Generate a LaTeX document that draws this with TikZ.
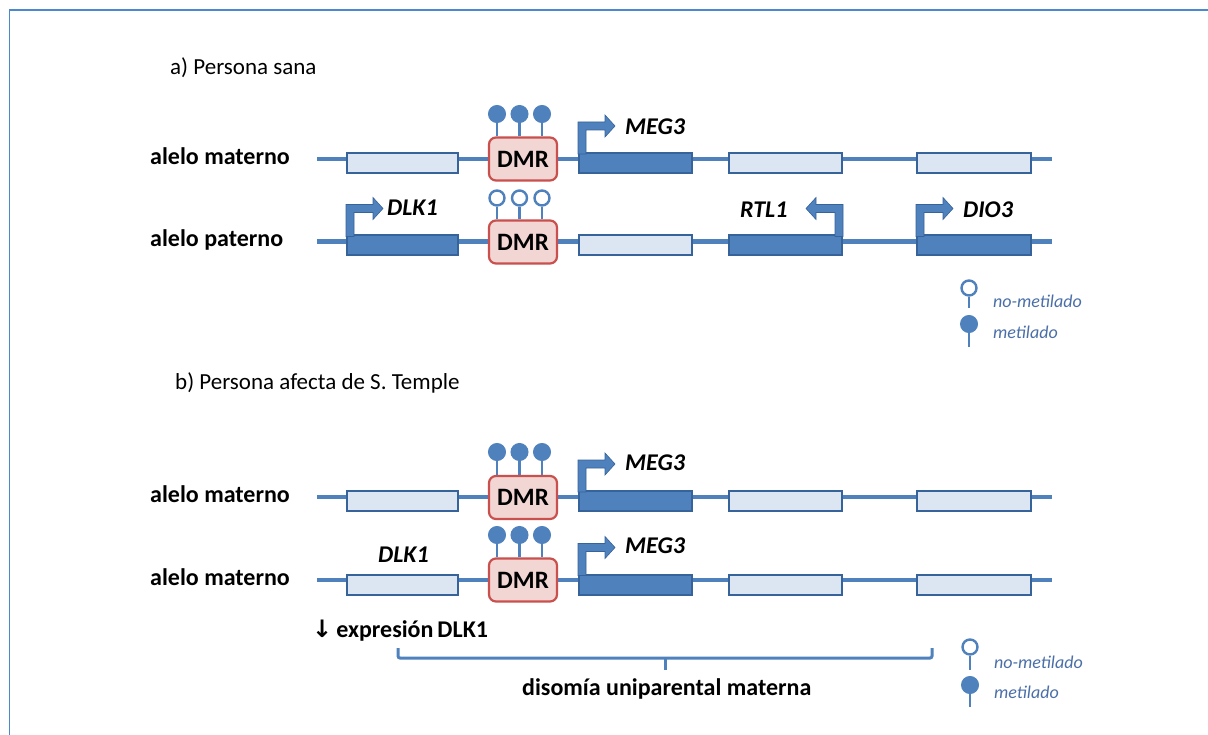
\documentclass[tikz,border=0pt]{standalone}
\usepackage{fontspec}
\setmainfont{Carlito}
\newfontfamily\arrowfont{DejaVu Sans}
\newcommand\setfsz[1]{\fontsize{#1}{#1}\selectfont}
\definecolor{lineblue}{HTML}{4F81BD}
\definecolor{darkfill}{HTML}{4F81BD}
\definecolor{boxedge}{HTML}{36639A}
\definecolor{lightfill}{HTML}{DCE6F2}
\definecolor{dmrfill}{HTML}{F2D6D4}
\definecolor{dmredge}{HTML}{C9504D}
\definecolor{framecol}{HTML}{4A88CF}
\definecolor{legtext}{HTML}{4A6FA8}
\tikzset{
  chrom/.style={draw=lineblue, line width=4.5pt},
  genebox/.style={draw=boxedge, line width=2pt, minimum height=20pt, inner sep=0pt},
  lightbox/.style={genebox, fill=lightfill},
  darkbox/.style={genebox, fill=darkfill},
  dmrbox/.style={draw=dmredge, fill=dmrfill, line width=2.2pt, rounded corners=7pt,
    minimum width=68pt, minimum height=43pt, inner sep=0pt, font=\bfseries\setfsz{25}},
  meth/.style={circle, fill=lineblue, draw=lineblue, line width=1pt, minimum size=17pt, inner sep=0pt},
  unmeth/.style={circle, fill=white, draw=lineblue, line width=2.4pt, minimum size=15pt, inner sep=0pt},
  stem/.style={draw=lineblue, line width=2.6pt},
  genelabel/.style={anchor=west, inner sep=0pt, font=\bfseries\itshape\setfsz{24}},
  rowlabel/.style={anchor=west, inner sep=0pt, font=\bfseries\setfsz{24}},
  title/.style={anchor=west, inner sep=0pt, font=\setfsz{23}},
  legendtext/.style={anchor=west, inner sep=0pt, text=legtext, font=\itshape\setfsz{18}},
  brace/.style={draw=lineblue, line width=3pt, rounded corners=2pt},
  arrowR/.pic={\fill[darkfill, draw=boxedge, line width=0.6pt]
     (0,2) -- (0,-30) -- (27,-30) -- (27,-37) -- (37,-26) -- (27,-15) -- (27,-22) -- (8,-22) -- (8,2) -- cycle;},
  arrowL/.pic={\fill[darkfill, draw=boxedge, line width=0.6pt]
     (0,2) -- (0,-30) -- (-27,-30) -- (-27,-37) -- (-37,-26) -- (-27,-15) -- (-27,-22) -- (-8,-22) -- (-8,2) -- cycle;}
}
\begin{document}
\begin{tikzpicture}[x=1pt,y=-1pt]
\useasboundingbox (0,0) rectangle (1208,735);
\fill[white] (0,0) rectangle (1208,735);
% frame
\coordinate (fr1) at (9.5,735);
\coordinate (fr2) at (9.5,10);
\coordinate (fr3) at (1208,10);
\draw[framecol, line width=1.5pt] (fr1) -- (fr2) -- (fr3);

% titles
\node[title] (ta) at (170,68) {a) Persona sana};
\node[title] (tb) at (175,383) {b) Persona afecta de S. Temple};

% ===== Row a1 =====
\node[rowlabel] (la1) at (150,156) {alelo materno};
\coordinate (a1s) at (317,159); \coordinate (a1e) at (1052,159);
\draw[chrom] (a1s) -- (a1e);
\node[lightbox, minimum width=111pt] (a1g1) at (402.5,163) {};
\node[dmrbox] (a1dmr) at (523,159) {DMR};
\node[darkbox, minimum width=113pt] (a1g3) at (635.5,163) {};
\node[lightbox, minimum width=113pt] (a1g4) at (785.5,163) {};
\node[lightbox, minimum width=114pt] (a1g5) at (974,163) {};
\pic at (a1g3.north west) {arrowR};
\node[genelabel] (a1meg) at (625,127) {MEG3};
\foreach \i/\x in {1/497,2/519.5,3/542}{
  \node[meth] (a1c\i) at (\x,114) {};
  \draw[stem] (a1c\i) -- (a1c\i |- a1dmr.north);
}

% ===== Row a2 =====
\node[rowlabel] (la2) at (150,240) {alelo paterno};
\coordinate (a2s) at (317,241.5); \coordinate (a2e) at (1052,241.5);
\draw[chrom] (a2s) -- (a2e);
\node[darkbox, minimum width=111pt] (a2g1) at (402.5,245.5) {};
\node[dmrbox] (a2dmr) at (523,242) {DMR};
\node[lightbox, minimum width=113pt] (a2g3) at (635.5,245.5) {};
\node[darkbox, minimum width=113pt] (a2g4) at (785.5,245.5) {};
\node[darkbox, minimum width=114pt] (a2g5) at (974,245.5) {};
\pic at (a2g1.north west) {arrowR};
\pic at (a2g4.north east) {arrowL};
\pic at (a2g5.north west) {arrowR};
\node[genelabel] (a2dlk) at (387,208) {DLK1};
\node[genelabel] (a2rtl) at (740,210) {RTL1};
\node[genelabel] (a2dio) at (963,210) {DIO3};
\foreach \i/\x in {1/497,2/519.5,3/542}{
  \node[unmeth] (a2c\i) at (\x,198) {};
  \draw[stem] (a2c\i) -- (a2c\i |- a2dmr.north);
}

% legend a
\node[unmeth] (lga1) at (969,288) {};
\coordinate (lga1e) at (969,308);
\draw[stem] (lga1) -- (lga1e);
\node[legendtext] (lta1) at (993,301) {no-metilado};
\node[meth] (lga2) at (969,324) {};
\coordinate (lga2e) at (969,347);
\draw[stem] (lga2) -- (lga2e);
\node[legendtext] (lta2) at (993,332) {metilado};

% ===== Row b1 =====
\node[rowlabel] (lb1) at (150,494) {alelo materno};
\coordinate (b1s) at (317,497); \coordinate (b1e) at (1052,497);
\draw[chrom] (b1s) -- (b1e);
\node[lightbox, minimum width=111pt] (b1g1) at (402.5,501) {};
\node[dmrbox] (b1dmr) at (523,497.5) {DMR};
\node[darkbox, minimum width=113pt] (b1g3) at (635.5,501) {};
\node[lightbox, minimum width=113pt] (b1g4) at (785.5,501) {};
\node[lightbox, minimum width=114pt] (b1g5) at (974,501) {};
\pic at (b1g3.north west) {arrowR};
\node[genelabel] (b1meg) at (625,463) {MEG3};
\foreach \i/\x in {1/497,2/519.5,3/542}{
  \node[meth] (b1c\i) at (\x,452) {};
  \draw[stem] (b1c\i) -- (b1c\i |- b1dmr.north);
}

% ===== Row b2 =====
\node[rowlabel] (lb2) at (150,577) {alelo materno};
\coordinate (b2s) at (317,580); \coordinate (b2e) at (1052,580);
\draw[chrom] (b2s) -- (b2e);
\node[lightbox, minimum width=111pt] (b2g1) at (402.5,584.5) {};
\node[dmrbox] (b2dmr) at (523,580) {DMR};
\node[darkbox, minimum width=113pt] (b2g3) at (635.5,584.5) {};
\node[lightbox, minimum width=113pt] (b2g4) at (785.5,584.5) {};
\node[lightbox, minimum width=114pt] (b2g5) at (974,584.5) {};
\pic at (b2g3.north west) {arrowR};
\node[genelabel] (b2meg) at (625,546) {MEG3};
\node[genelabel] (b2dlk) at (378,555) {DLK1};
\foreach \i/\x in {1/497,2/519.5,3/542}{
  \node[meth] (b2c\i) at (\x,535) {};
  \draw[stem] (b2c\i) -- (b2c\i |- b2dmr.north);
}

% expression and brace
\node[rowlabel] (expr) at (312,631) {{\arrowfont\bfseries\setfsz{24}↓}\,expresión\,DLK1};
\coordinate (brl) at (398,648);
\coordinate (brr) at (932,648);
\coordinate (brm) at (665,658);
\coordinate (brt) at (665,670);
\draw[brace] (brl) -- (brl |- brm) -- (brr |- brm) -- (brr);
\draw[brace] (brm) -- (brt);
\node[rowlabel] (dis) at (522,689) {disomía uniparental materna};

% legend b
\node[unmeth] (lgb1) at (970,647) {};
\coordinate (lgb1e) at (970,670);
\draw[stem] (lgb1) -- (lgb1e);
\node[legendtext] (ltb1) at (994,662) {no-metilado};
\node[meth] (lgb2) at (970,685) {};
\coordinate (lgb2e) at (970,707);
\draw[stem] (lgb2) -- (lgb2e);
\node[legendtext] (ltb2) at (994,692) {metilado};
\end{tikzpicture}
\end{document}
